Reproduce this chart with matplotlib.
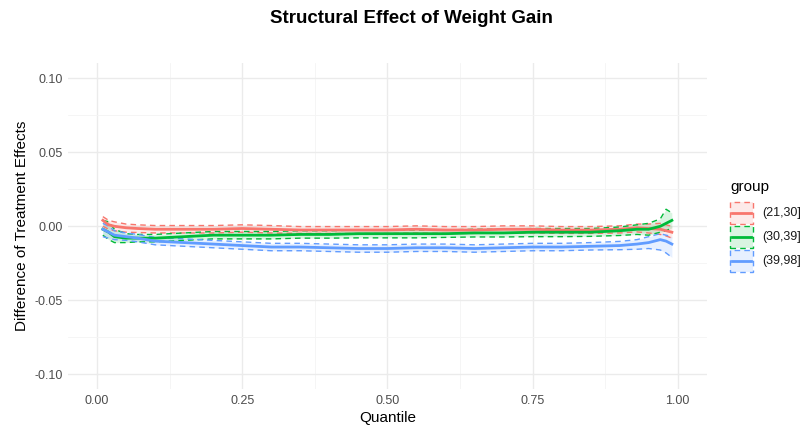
import matplotlib.pyplot as plt
import matplotlib.patches as mpatches
import numpy as np

plt.rcParams['font.family'] = ['Liberation Sans', 'DejaVu Sans']

quantile = [0.01, 0.02, 0.03, 0.05, 0.07, 0.10, 0.15, 0.20, 0.25, 0.30, 0.35, 0.40, 0.45, 0.50,
            0.55, 0.60, 0.65, 0.70, 0.75, 0.80, 0.85, 0.90, 0.93, 0.95, 0.97, 0.98, 0.99]

groups = ['(21,30]', '(30,39]', '(39,98]']
colors = ['#F8766D', '#00BA38', '#619CFF']

est_21_30 = [0.004, 0.001, 0.000, -0.001, -0.0015, -0.002, -0.002, -0.002, -0.0015, -0.002, -0.0025,
             -0.0025, -0.0025, -0.0025, -0.002, -0.0025, -0.0025, -0.002, -0.002, -0.0025, -0.0025,
             -0.002, -0.001, -0.0015, -0.002, -0.003, -0.004]
low_21_30 = [0.000, -0.002, -0.003, -0.004, -0.0042, -0.0045, -0.0045, -0.0045, -0.004, -0.0045, -0.0048,
             -0.0048, -0.0048, -0.0048, -0.0045, -0.0048, -0.0048, -0.0045, -0.0045, -0.0048, -0.0048,
             -0.0045, -0.0038, -0.0045, -0.0055, -0.0065, -0.008]
high_21_30 = [0.0065, 0.004, 0.003, 0.0015, 0.001, 0.0005, 0.0005, 0.0005, 0.001, 0.0005, -0.0002,
              -0.0002, -0.0002, -0.0002, 0.0003, -0.0002, -0.0002, 0.0003, 0.0003, -0.0002, -0.0002,
              0.0003, 0.0015, 0.0015, 0.002, 0.001, 0.000]

est_30_39 = [-0.002, -0.004, -0.007, -0.008, -0.008, -0.008, -0.007, -0.006, -0.006, -0.006, -0.0055,
             -0.0055, -0.005, -0.005, -0.005, -0.005, -0.0045, -0.0045, -0.004, -0.004, -0.004,
             -0.003, -0.002, -0.002, 0.000, 0.002, 0.004]
low_30_39 = [-0.006, -0.009, -0.011, -0.011, -0.0105, -0.0105, -0.0095, -0.0085, -0.0085, -0.0085, -0.008,
             -0.008, -0.0078, -0.0078, -0.0078, -0.0075, -0.0072, -0.0072, -0.007, -0.007, -0.0068,
             -0.0062, -0.0055, -0.006, -0.004, -0.003, -0.001]
high_30_39 = [0.004, 0.003, -0.002, -0.005, -0.0055, -0.0055, -0.0045, -0.0035, -0.0035, -0.0035, -0.003,
              -0.003, -0.0025, -0.0025, -0.0025, -0.0025, -0.002, -0.002, -0.0015, -0.0015, -0.0015,
              -0.0005, 0.001, 0.002, 0.005, 0.0115, 0.009]

est_39_98 = [-0.002, -0.004, -0.006, -0.007, -0.008, -0.010, -0.011, -0.012, -0.013, -0.014, -0.014,
             -0.0145, -0.015, -0.015, -0.0145, -0.0145, -0.015, -0.0145, -0.014, -0.014, -0.0135,
             -0.013, -0.012, -0.011, -0.009, -0.010, -0.012]
low_39_98 = [-0.007, -0.008, -0.009, -0.0095, -0.0105, -0.0125, -0.0135, -0.0145, -0.0155, -0.0165, -0.0165,
             -0.017, -0.0175, -0.0175, -0.017, -0.017, -0.0175, -0.017, -0.0165, -0.0165, -0.016,
             -0.0158, -0.0155, -0.015, -0.016, -0.018, -0.021]
high_39_98 = [0.002, 0.000, -0.003, -0.0045, -0.0055, -0.0075, -0.0085, -0.0095, -0.0105, -0.0115, -0.0115,
              -0.012, -0.0125, -0.0125, -0.012, -0.012, -0.0125, -0.012, -0.0115, -0.0115, -0.011,
              -0.0102, -0.009, -0.007, -0.005, -0.006, -0.007]

estimates = [est_21_30, est_30_39, est_39_98]
lowers = [low_21_30, low_30_39, low_39_98]
uppers = [high_21_30, high_30_39, high_39_98]

fig = plt.figure(figsize=(8, 4.3), dpi=100)
ax = fig.add_axes([0.085, 0.0947, 0.7984, 0.7581])

for est, lo, hi, col in zip(estimates, lowers, uppers, colors):
    ax.fill_between(quantile, lo, hi, color=col, alpha=0.15, linewidth=0)
    ax.plot(quantile, lo, color=col, linestyle=(0, (4, 3)), linewidth=1.0)
    ax.plot(quantile, hi, color=col, linestyle=(0, (4, 3)), linewidth=1.0)
for est, col in zip(estimates, colors):
    ax.plot(quantile, est, color=col, linewidth=2.0, solid_joinstyle='round')

ax.set_xlim(-0.05, 1.05)
ax.set_ylim(-0.11, 0.11)
ax.set_xticks([0, 0.25, 0.5, 0.75, 1.0])
ax.set_xticklabels(['0.00', '0.25', '0.50', '0.75', '1.00'])
ax.set_yticks([-0.10, -0.05, 0, 0.05, 0.10])
ax.set_yticklabels(['-0.10', '-0.05', '0.00', '0.05', '0.10'])
ax.set_xticks([0.125, 0.375, 0.625, 0.875], minor=True)
ax.set_yticks([-0.075, -0.025, 0.025, 0.075], minor=True)
ax.grid(which='major', color='#EBEBEB', linewidth=1.0)
ax.grid(which='minor', color='#F4F4F4', linewidth=0.6)
ax.set_axisbelow(True)
for s in ax.spines.values():
    s.set_visible(False)
ax.tick_params(which='both', length=0, labelsize=9, labelcolor='#4D4D4D', pad=4)
ax.set_xlabel('Quantile', fontsize=11, labelpad=3)
ax.set_ylabel('Difference of Treatment Effects', fontsize=11, labelpad=4)

fig.text(0.514, 0.958, 'Structural Effect of Weight Gain', ha='center', va='center',
         fontsize=13.5, fontweight='bold')

# legend drawn by hand so the keys show fill, dashed border and centre line
fig.text(730 / 800, 1 - 187 / 430, 'group', ha='left', va='center', fontsize=11)
key_centres = [213, 237, 261]
for yc, col, lab in zip(key_centres, colors, groups):
    x0, w, h = 730 / 800, 23 / 800, 22 / 430
    yb = 1 - (yc + 11) / 430
    fig.patches.append(mpatches.Rectangle((x0, yb), w, h, transform=fig.transFigure,
                                          facecolor=col, alpha=0.15, edgecolor='none'))
    fig.patches.append(mpatches.Rectangle((x0, yb), w, h, transform=fig.transFigure,
                                          facecolor='none', edgecolor=col, linewidth=1.0,
                                          linestyle=(0, (4, 3))))
    fig.lines.append(plt.Line2D([x0 + 0.002, x0 + w - 0.002], [yb + h / 2, yb + h / 2],
                                transform=fig.transFigure, color=col, linewidth=2.0))
    fig.text(762 / 800, 1 - yc / 430, lab, ha='left', va='center', fontsize=9, color='#1A1A1A')

fig.savefig('out.png', dpi=100)
